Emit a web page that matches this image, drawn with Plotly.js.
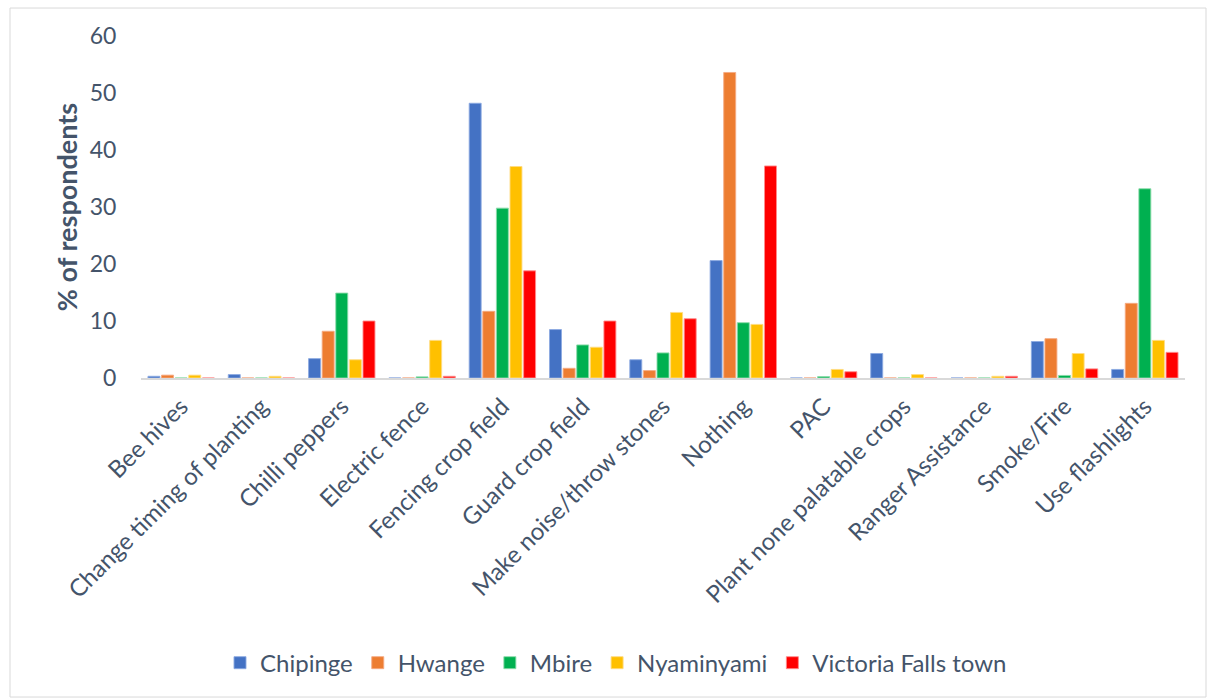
<!DOCTYPE html>
<html>
<head>
<meta charset="utf-8">
<script src="https://cdn.plot.ly/plotly-3.0.1.min.js"></script>
<style>html,body{margin:0;padding:0;background:#fff;}#chart{width:1208px;height:700px;}</style>
</head>
<body>
<div id="chart"></div>
<script>
const categories = ["Bee hives","Change timing of planting","Chilli peppers","Electric fence","Fencing crop field","Guard crop field","Make noise/throw stones","Nothing","PAC","Plant none palatable crops","Ranger Assistance","Smoke/Fire","Use flashlights"];
const seriesNames = ["Chipinge","Hwange","Mbire","Nyaminyami","Victoria Falls town"];
const chipinge   = [0.3, 0.6, 3.4, 0,   48.2, 8.5, 3.2, 20.6, 0,    4.3, 0,   6.4, 1.5];
const hwange     = [0.5, 0,   8.2, 0,   11.7, 1.7, 1.3, 53.6, 0,    0,   0,   6.9, 13.1];
const mbire      = [0,   0,   14.9,0.2, 29.8, 5.8, 4.4, 9.7,  0.25, 0,   0,   0.45,33.2];
const nyaminyami = [0.5, 0.3, 3.2, 6.6, 37.1, 5.4, 11.5,9.4,  1.5,  0.6, 0.3, 4.3, 6.6];
const victoria   = [0,   0,   10.0,0.3, 18.8, 10.0,10.4,37.2, 1.1,  0,   0.3, 1.6, 4.5];
const colors = ["#4472C4","#ED7D31","#00B050","#FFC000","#FF0000"];
const lineColors = ["rgba(140,170,225,0.9)","rgba(245,170,130,0.9)","rgba(140,220,170,0.9)","rgba(255,220,130,0.9)","rgba(255,140,140,0.9)"];
const allValues = [chipinge, hwange, mbire, nyaminyami, victoria];

const traces = seriesNames.map((n,i)=>({
  type:'bar', name:n, x:categories, y:allValues[i],
  marker:{color:colors[i], line:{color:lineColors[i], width:1}}
}));

const font = "Lato, 'Open Sans', sans-serif";
const L=141, R=1185, T=36, B=378.5;
const pw=R-L, ph=B-T;
const px = v => (v-L)/pw;
const py = v => (B-v)/ph;

const layout = {
  width:1208, height:700,
  margin:{l:L, r:1208-R, t:T, b:700-B, pad:0},
  paper_bgcolor:'#fff', plot_bgcolor:'#fff',
  barmode:'group', bargap:0.153, bargroupgap:0.12,
  font:{family:font, color:'#44546A'},
  showlegend:true,
  legend:{orientation:'h', x:px(616), xanchor:'center', y:py(664), yanchor:'middle',
          font:{size:24, color:'#44546A', family:font}, itemwidth:30, traceorder:'normal'},
  xaxis:{type:'category', tickangle:-45, tickfont:{size:24, color:'#44546A', family:font},
         showgrid:false, showline:true, linecolor:'#D9D9D9', linewidth:2, ticks:'outside', ticklen:3, tickcolor:'rgba(0,0,0,0)', automargin:false, zeroline:false},
  yaxis:{range:[0,60], dtick:10, tickfont:{size:23, color:'#44546A', family:font},
         showgrid:false, showline:false, zeroline:false, ticks:'outside', ticklen:19, tickcolor:'rgba(0,0,0,0)', automargin:false,
         title:{text:'% of respondents', font:{size:27, color:'#44546A', family:font, weight:'bold'}, standoff:4}},
  shapes:[{type:'rect', xref:'paper', yref:'paper', x0:px(10), x1:px(1206), y0:py(698), y1:py(8),
           line:{color:'#D9D9D9', width:1}, fillcolor:'rgba(0,0,0,0)', layer:'below'}]
};
Plotly.newPlot('chart', traces, layout, {displayModeBar:false, staticPlot:true});
</script>
</body>
</html>
